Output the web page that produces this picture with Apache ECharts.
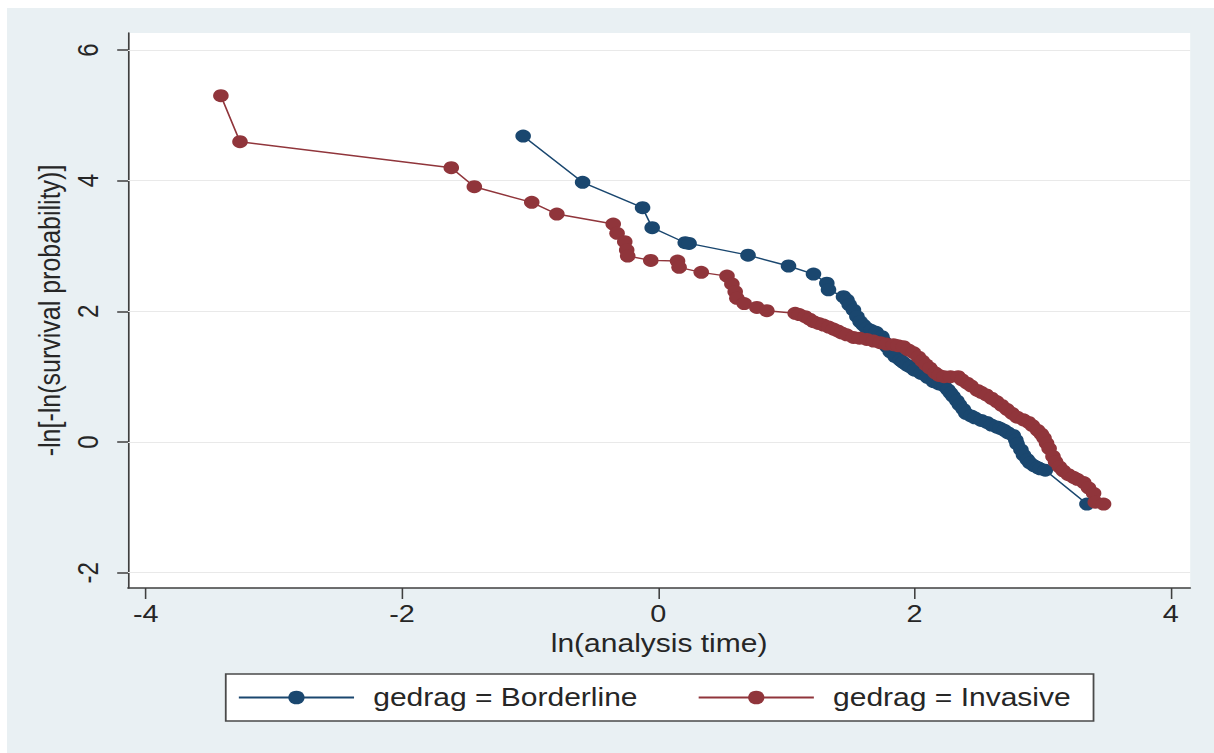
<!DOCTYPE html>
<html><head><meta charset="utf-8">
<script src="https://cdn.jsdelivr.net/npm/echarts@6/dist/echarts.min.js"></script>
<style>
html,body{margin:0;padding:0;background:#fff;width:1214px;height:753px;overflow:hidden;}
#chart{position:absolute;left:7px;top:8px;width:1005.83px;height:745px;transform:scaleX(1.2);transform-origin:0 0;}
</style></head><body><div id="chart"></div>
<script>
// ---- data ----
const seriesNames = ['gedrag = Borderline', 'gedrag = Invasive'];
const xTicks = [-4, -2, 0, 2, 4];
const yTicks = [-2, 0, 2, 4, 6];

const borderlineX = [-1.055, -0.591, -0.123, -0.048, 0.21, 0.24, 0.70, 1.016, 1.211, 1.315, 1.328, 1.445, 1.472, 1.49, 1.523, 1.55, 1.575, 1.60, 1.627, 1.66, 1.70, 1.745, 1.76, 1.784, 1.81, 1.849, 1.888, 1.91, 1.94, 1.966, 2.00, 2.05, 2.10, 2.148, 2.19, 2.23, 2.26, 2.28, 2.30, 2.33, 2.35, 2.38, 2.40, 2.44, 2.47, 2.52, 2.564, 2.60, 2.642, 2.668, 2.70, 2.73, 2.77, 2.79, 2.80, 2.83, 2.85, 2.88, 2.90, 2.93, 2.96, 2.98, 3.02, 3.345];
const borderlineY = [4.683, 3.975, 3.586, 3.28, 3.05, 3.04, 2.86, 2.694, 2.571, 2.43, 2.33, 2.224, 2.173, 2.10, 2.02, 1.92, 1.84, 1.79, 1.74, 1.71, 1.68, 1.612, 1.54, 1.459, 1.38, 1.306, 1.255, 1.22, 1.178, 1.152, 1.10, 1.05, 0.99, 0.923, 0.89, 0.86, 0.80, 0.75, 0.70, 0.63, 0.57, 0.50, 0.44, 0.40, 0.37, 0.33, 0.30, 0.26, 0.23, 0.21, 0.18, 0.14, 0.10, 0.03, -0.03, -0.12, -0.20, -0.27, -0.32, -0.36, -0.39, -0.41, -0.43, -0.95];

const invasiveX = [-3.414, -3.265, -1.616, -1.436, -0.988, -0.792, -0.352, -0.322, -0.262, -0.247, -0.239, -0.059, 0.150, 0.162, 0.335, 0.536, 0.574, 0.600, 0.613, 0.67, 0.769, 0.847, 1.068, 1.10, 1.146, 1.18, 1.211, 1.25, 1.289, 1.33, 1.367, 1.40, 1.43, 1.47, 1.523, 1.57, 1.627, 1.68, 1.731, 1.78, 1.835, 1.87, 1.913, 1.95, 1.99, 2.03, 2.06, 2.09, 2.12, 2.16, 2.19, 2.23, 2.28, 2.34, 2.37, 2.41, 2.44, 2.49, 2.52, 2.56, 2.60, 2.64, 2.68, 2.72, 2.76, 2.80, 2.85, 2.89, 2.92, 2.96, 2.99, 3.01, 3.03, 3.05, 3.08, 3.10, 3.13, 3.16, 3.20, 3.24, 3.27, 3.32, 3.357, 3.397, 3.41, 3.475];
const invasiveY = [5.30, 4.596, 4.198, 3.907, 3.668, 3.489, 3.336, 3.194, 3.066, 2.938, 2.847, 2.78, 2.77, 2.674, 2.597, 2.54, 2.42, 2.30, 2.20, 2.12, 2.06, 2.01, 1.97, 1.95, 1.918, 1.88, 1.841, 1.815, 1.791, 1.76, 1.729, 1.70, 1.67, 1.64, 1.60, 1.59, 1.57, 1.545, 1.52, 1.50, 1.49, 1.475, 1.459, 1.41, 1.37, 1.30, 1.24, 1.18, 1.13, 1.06, 1.02, 1.00, 1.00, 1.00, 0.95, 0.90, 0.86, 0.79, 0.76, 0.72, 0.67, 0.62, 0.56, 0.50, 0.44, 0.38, 0.34, 0.30, 0.25, 0.18, 0.12, 0.06, -0.02, -0.10, -0.22, -0.30, -0.38, -0.44, -0.50, -0.54, -0.57, -0.62, -0.70, -0.785, -0.92, -0.95];

// ---- chart ----
const FONT = '"Liberation Sans", Arial, sans-serif';
const TXT = '#262626';
const AX = '#3f3f3f';
const BLUE = '#1a476f';
const RED = '#90353b';

function zip(xs, ys) { return xs.map((x, i) => [x, ys[i]]); }

const chart = echarts.init(document.getElementById('chart'), null, { renderer: 'svg' });
chart.setOption({
  animation: false,
  backgroundColor: '#e9f0f3',
  textStyle: { fontFamily: FONT },
  grid: { left: 100.83, top: 25, right: 20, bottom: 165, show: true, backgroundColor: '#ffffff', borderWidth: 0 },
  xAxis: {
    type: 'value', min: -4.139, max: 4.151,
    axisLine: { show: true, onZero: false, lineStyle: { color: AX, width: 1.6 } },
    axisTick: { show: true, inside: false, length: 11, customValues: xTicks, lineStyle: { color: AX, width: 1.3 } },
    axisLabel: { customValues: xTicks, fontSize: 24, color: TXT, margin: 14, fontFamily: FONT },
    splitLine: { show: false },
    name: 'ln(analysis time)', nameLocation: 'middle', nameGap: 40,
    nameTextStyle: { fontSize: 25, color: TXT, fontFamily: FONT }
  },
  yAxis: {
    type: 'value', min: -2.234, max: 6.26,
    axisLine: { show: true, onZero: false, lineStyle: { color: AX, width: 1.4 } },
    axisTick: { show: true, inside: false, length: 9, customValues: yTicks, lineStyle: { color: AX, width: 1.5 } },
    axisLabel: { customValues: yTicks, rotate: 90, fontSize: 24, color: TXT, margin: 21, fontFamily: FONT },
    splitLine: { show: false },
    name: '-ln[-ln(survival probability)]', nameLocation: 'middle', nameGap: 44, nameRotate: 90,
    nameTextStyle: { fontSize: 25, color: TXT, fontFamily: FONT }
  },
  legend: {
    left: 182.3, top: 666, orient: 'horizontal',
    itemWidth: 96, itemHeight: 17, itemGap: 50,
    padding: [11, 19, 11, 10],
    backgroundColor: '#ffffff', borderColor: '#4a4a4a', borderWidth: 1.5, borderRadius: 0,
    textStyle: { fontSize: 25, color: TXT, fontFamily: FONT, padding: [0, 0, 0, 11] },
    lineStyle: { width: 1.8 },
    data: seriesNames
  },
  series: [
    {
      name: seriesNames[0], type: 'line', z: 3,
      data: zip(borderlineX, borderlineY),
      symbol: 'circle', symbolSize: 13, showSymbol: true,
      lineStyle: { color: BLUE, width: 1.4 }, itemStyle: { color: BLUE },
      markLine: {
        z: 1, silent: true, symbol: ['none', 'none'], label: { show: false },
        lineStyle: { color: '#e9e9e9', width: 1.2, type: 'solid' },
        data: yTicks.map(v => ({ yAxis: v }))
      }
    },
    {
      name: seriesNames[1], type: 'line', z: 4,
      data: zip(invasiveX, invasiveY),
      symbol: 'circle', symbolSize: 13, showSymbol: true,
      lineStyle: { color: RED, width: 1.4 }, itemStyle: { color: RED }
    }
  ]
});
</script></body></html>
